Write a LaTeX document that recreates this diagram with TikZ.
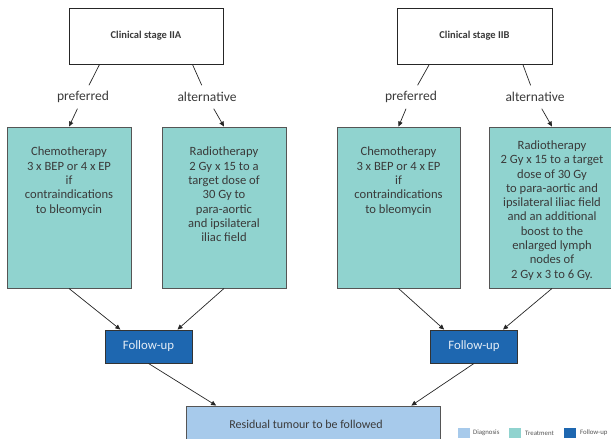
\documentclass[tikz,border=0pt]{standalone}
\usepackage{fontspec}
\setmainfont{Carlito}
\usetikzlibrary{calc,arrows.meta}
\definecolor{teal1}{HTML}{90D3CF}
\definecolor{fblue}{HTML}{1E67B0}
\definecolor{dblue}{HTML}{A7CAEB}
\definecolor{bord}{HTML}{555555}
\definecolor{txt}{HTML}{3A3A3A}
\begin{document}
\begin{tikzpicture}[x=1pt,y=-1pt,
 stagebox/.style={draw=black!85,line width=0.9pt,fill=white,minimum width=154pt,minimum height=56pt,inner sep=0pt,font=\fontsize{10.5}{12}\selectfont\bfseries,text=txt},
 treat/.style={draw=bord,line width=0.9pt,fill=teal1,minimum height=161pt,inner sep=0pt},
 treattext/.style={anchor=north,align=center,font=\fontsize{12.6}{14.3}\selectfont,text=txt,inner sep=0pt},
 follow/.style={draw=black!80,line width=0.9pt,fill=fblue,minimum width=87pt,minimum height=33pt,inner sep=0pt,text=white!88!fblue,font=\fontsize{12.8}{14}\selectfont},
 branch/.style={minimum height=23pt,inner sep=0pt,font=\fontsize{13.5}{15}\selectfont,text=txt},
 conn/.style={line width=0.7pt,draw=black!85},
 arr/.style={conn,-{Triangle[length=5pt,width=4.5pt]}},
 swatch/.style={minimum width=12pt,minimum height=10pt,inner sep=0pt,draw=none},
 legtext/.style={anchor=west,inner sep=0pt,font=\fontsize{6.8}{8}\selectfont,text=bord}]
\path[use as bounding box,clip] (0,0) rectangle (611,439);
% stage boxes
\node[stagebox] (IIA) at (146,36) {Clinical stage IIA};
\node[stagebox,minimum width=155pt] (IIB) at (474.5,36) {Clinical stage IIB};
% branch labels
\node[branch] (prefA) at (83,97) {preferred};
\node[branch] (altA) at (207,97) {alternative};
\node[branch] (prefB) at (411,97) {preferred};
\node[branch] (altB) at (535,97) {alternative};
% treatment boxes
\node[treat,minimum width=124pt] (chemoA) at (69,207.5) {};
\node[treat,minimum width=124pt] (radioA) at (224,207.5) {};
\node[treat,minimum width=123pt] (chemoB) at (398.5,207.5) {};
\node[treat,minimum width=126pt] (radioB) at (552,207.5) {};
\node[treattext] (tchemoA) at (69,147) {Chemotherapy\\3 x BEP or 4 x EP\\if\\contraindications\\to bleomycin};
\node[treattext] (tradioA) at (224,147) {Radiotherapy\\2 Gy x 15 to a\\target dose of\\30 Gy to\\para-aortic\\and ipsilateral\\iliac field};
\node[treattext] (tchemoB) at (398.5,147) {Chemotherapy\\3 x BEP or 4 x EP\\if\\contraindications\\to bleomycin};
\node[treattext] (tradioB) at (552,140.5) {Radiotherapy\\2 Gy x 15 to a target\\dose of 30 Gy\\to para-aortic and\\ipsilateral iliac field\\and an additional\\boost to the\\enlarged lymph\\nodes of\\2 Gy x 3 to 6 Gy.};
% follow-up
\node[follow] (folA) at (148.5,346.5) {Follow-up};
\node[follow] (folB) at (474,346.5) {Follow-up};
% residual
\node[draw=bord,line width=0.9pt,fill=dblue,minimum width=254pt,minimum height=44pt,inner sep=0pt] (res) at (313,428) {};
\node[inner sep=0pt,font=\fontsize{12}{14}\selectfont,text=txt] (restext) at (306,424) {Residual tumour to be followed};
% connectors
\draw[conn] ($(IIA.south west)!0.2!(IIA.south east)$) -- (prefA);
\draw[conn] ($(IIA.south west)!0.8!(IIA.south east)$) -- (altA);
\draw[conn] ($(IIB.south west)!0.21!(IIB.south east)$) -- (prefB);
\draw[conn] ($(IIB.south west)!0.81!(IIB.south east)$) -- (altB);
\draw[arr] (prefA) -- (chemoA.north);
\draw[arr] (altA) -- (radioA.north);
\draw[arr] (prefB) -- (chemoB.north);
\draw[arr] (altB) -- (radioB.north);
\draw[arr] (chemoA.south) -- ($(folA.north west)!0.18!(folA.north east)$);
\draw[arr] (radioA.south) -- ($(folA.north west)!0.83!(folA.north east)$);
\draw[arr] (chemoB.south) -- ($(folB.north west)!0.16!(folB.north east)$);
\draw[arr] (radioB.south) -- ($(folB.north west)!0.83!(folB.north east)$);
\draw[arr] (folA.south) -- ($(res.north west)!0.12!(res.north east)$);
\draw[arr] (folB.south) -- ($(res.north west)!0.886!(res.north east)$);
% legend
\node[swatch,fill=dblue] (sw1) at (464,433) {};
\node[legtext] (l1) at (473,433) {Diagnosis};
\node[swatch,fill=teal1] (sw2) at (515,433) {};
\node[legtext] (l2) at (525,433) {Treatment};
\node[swatch,fill=fblue] (sw3) at (570,433) {};
\node[legtext] (l3) at (580,433) {Follow-up};
\end{tikzpicture}
\end{document}
